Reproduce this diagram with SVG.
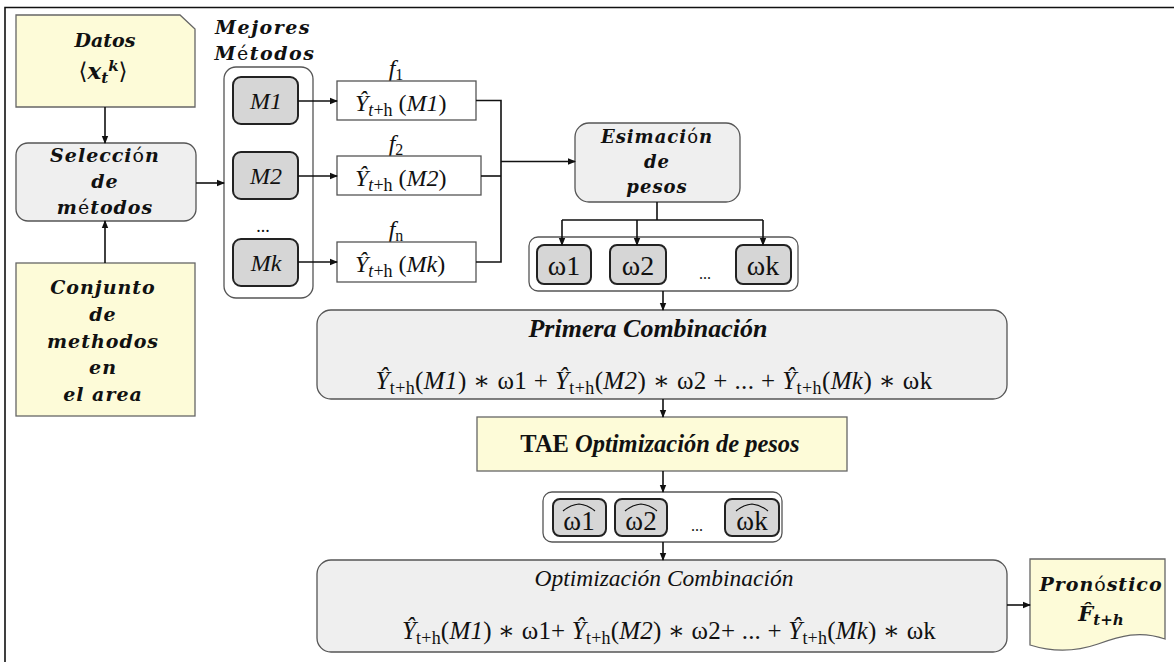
<svg xmlns="http://www.w3.org/2000/svg" width="1174" height="662" viewBox="0 0 1174 662">
<style>
.lbl{font-family:"DejaVu Serif","Liberation Serif",serif;font-weight:bold;font-style:italic;fill:#111;text-anchor:middle;}
.up{font-weight:normal;font-style:normal;}
.math{font-family:"Liberation Serif","DejaVu Serif",serif;fill:#111;}
.it{font-style:italic;}
.yel{fill:#fdfbd8;stroke:#666;stroke-width:1.3;}
.gry{fill:#efefef;stroke:#555;stroke-width:1.3;}
.mbox{fill:#d6d6d6;stroke:#222;stroke-width:2;}
.grp{fill:#fff;stroke:#555;stroke-width:1.3;}
.ybox{fill:#fff;stroke:#555;stroke-width:1.3;}
.hat{fill:none;stroke:#111;stroke-width:1.1;}
.ln{fill:none;stroke:#111;stroke-width:1.6;}
.arr{fill:none;stroke:#111;stroke-width:1.6;marker-end:url(#ah);}
</style>
<defs>
<marker id="ah" markerWidth="8" markerHeight="8" refX="7" refY="4" orient="auto" markerUnits="userSpaceOnUse">
<path d="M0,0.8 L8,4 L0,7.2 Z" fill="#111"/>
</marker>
</defs>
<rect width="1174" height="662" fill="#fff"/>
<path d="M5,662 V7.5 H1174" fill="none" stroke="#111" stroke-width="1.6"/>

<g id="datos">
<path class="yel" d="M16,15 H180 L195,29 V107 H16 Z"/>
<text class="lbl" x="105" y="47" font-size="19">Datos</text>
<text class="lbl" x="103" y="79" font-size="23"><tspan class="up">⟨</tspan>x<tspan font-size="15" dy="4">t</tspan><tspan font-size="15" dy="-12">k</tspan><tspan class="up" dy="8">⟩</tspan></text>
</g>

<g id="seleccion">
<rect class="gry" x="16" y="143" width="180" height="78" rx="12"/>
<text class="lbl" x="105" y="162" font-size="19" letter-spacing="1">Selecci<tspan class="up">ó</tspan>n</text>
<text class="lbl" x="105" y="188" font-size="19" letter-spacing="1">de</text>
<text class="lbl" x="105" y="214" font-size="19" letter-spacing="1">m<tspan class="up">é</tspan>todos</text>
</g>

<g id="conjunto">
<rect class="yel" x="16" y="263" width="179" height="153"/>
<text class="lbl" x="103" y="294" font-size="19" letter-spacing="1">Conjunto</text>
<text class="lbl" x="103" y="321" font-size="19" letter-spacing="1">de</text>
<text class="lbl" x="103" y="348" font-size="19" letter-spacing="1">methodos</text>
<text class="lbl" x="103" y="374" font-size="19" letter-spacing="1">en</text>
<text class="lbl" x="103" y="401" font-size="19" letter-spacing="1">el area</text>
</g>

<g id="mejores">
<text class="lbl" x="263" y="34" font-size="19" letter-spacing="1.5">Mejores</text>
<text class="lbl" x="265" y="60" font-size="19" letter-spacing="1.5">M<tspan class="up">é</tspan>todos</text>
<rect class="grp" x="224" y="67" width="89" height="231" rx="12"/>
</g>

<g id="m1">
<rect class="mbox" x="233" y="77" width="65" height="47" rx="8"/>
<text class="math it" x="266" y="109" font-size="24" text-anchor="middle">M1</text>
</g>
<g id="m2">
<rect class="mbox" x="233" y="152" width="65" height="47" rx="8"/>
<text class="math it" x="266" y="184" font-size="24" text-anchor="middle">M2</text>
</g>
<text class="math" x="263" y="232" font-size="18" text-anchor="middle">...</text>
<g id="mk">
<rect class="mbox" x="233" y="239" width="65" height="47" rx="8"/>
<text class="math it" x="266" y="271" font-size="24" text-anchor="middle">Mk</text>
</g>

<g id="y1">
<text class="math it" x="396" y="76" font-size="24" text-anchor="middle">f<tspan font-style="normal" font-size="16" dy="4">1</tspan></text>
<rect class="ybox" x="337" y="81" width="139" height="39"/>
<text class="math" x="355" y="111" font-size="24"><tspan class="it">Ŷ</tspan><tspan font-size="18" dy="5"><tspan class="it">t</tspan>+h</tspan><tspan dy="-5"> (</tspan><tspan class="it">M1</tspan>)</text>
</g>
<g id="y2">
<text class="math it" x="396" y="151" font-size="24" text-anchor="middle">f<tspan font-style="normal" font-size="16" dy="4">2</tspan></text>
<rect class="ybox" x="337" y="156" width="144" height="39"/>
<text class="math" x="355" y="186" font-size="24"><tspan class="it">Ŷ</tspan><tspan font-size="18" dy="5"><tspan class="it">t</tspan>+h</tspan><tspan dy="-5"> (</tspan><tspan class="it">M2</tspan>)</text>
</g>
<g id="yk">
<text class="math it" x="396" y="237" font-size="24" text-anchor="middle">f<tspan font-style="normal" font-size="16" dy="4">n</tspan></text>
<rect class="ybox" x="337" y="242" width="139" height="40"/>
<text class="math" x="355" y="272" font-size="24"><tspan class="it">Ŷ</tspan><tspan font-size="18" dy="5"><tspan class="it">t</tspan>+h</tspan><tspan dy="-5"> (</tspan><tspan class="it">Mk</tspan>)</text>
</g>

<g id="esimacion">
<rect class="gry" x="575" y="123" width="165" height="79" rx="14"/>
<text class="lbl" x="657" y="143" font-size="18" letter-spacing="1">Esimaci<tspan class="up">ó</tspan>n</text>
<text class="lbl" x="657" y="168" font-size="18" letter-spacing="1">de</text>
<text class="lbl" x="657" y="193" font-size="18" letter-spacing="1">pesos</text>
</g>

<g id="omegas">
<rect class="grp" x="529" y="237" width="269" height="54" rx="9"/>
<rect class="mbox" x="537" y="245" width="54" height="39" rx="7"/>
<text class="math" x="564" y="275" font-size="28" text-anchor="middle">ω1</text>
<rect class="mbox" x="610" y="245" width="56" height="39" rx="7"/>
<text class="math" x="638" y="275" font-size="28" text-anchor="middle">ω2</text>
<text class="math" x="705" y="279" font-size="16" text-anchor="middle">...</text>
<rect class="mbox" x="736" y="245" width="55" height="39" rx="7"/>
<text class="math" x="763" y="275" font-size="28" text-anchor="middle">ωk</text>
</g>

<g id="primera">
<rect class="gry" x="317" y="310" width="690" height="89" rx="14"/>
<text class="math" x="648" y="337" font-size="26" font-weight="bold" font-style="italic" text-anchor="middle">Primera Combinación</text>
<text class="math" x="654" y="389" font-size="25" letter-spacing="0.4" text-anchor="middle"><tspan class="it">Ŷ</tspan><tspan font-size="18" dy="5">t+h</tspan><tspan dy="-5">(</tspan><tspan class="it">M1</tspan>) ∗ ω1 +  <tspan class="it">Ŷ</tspan><tspan font-size="18" dy="5">t+h</tspan><tspan dy="-5">(</tspan><tspan class="it">M2</tspan>) ∗ ω2 +  ... +  <tspan class="it">Ŷ</tspan><tspan font-size="18" dy="5">t+h</tspan><tspan dy="-5">(</tspan><tspan class="it">Mk</tspan>) ∗ ωk</text>
</g>

<g id="tae">
<rect class="yel" x="477" y="417" width="370" height="54"/>
<text class="math" x="660" y="452" font-size="24.5" font-weight="bold" text-anchor="middle">TAE <tspan class="it">Optimización de pesos</tspan></text>
</g>

<g id="omegahat">
<rect class="grp" x="543" y="492" width="239" height="50" rx="9"/>
<rect class="mbox" x="553" y="499" width="53" height="37" rx="7"/>
<text class="math" x="579" y="530" font-size="27" text-anchor="middle">ω1</text>
<path class="hat" d="M563,511 Q570,505 579,504 Q588,505 595,511"/>
<rect class="mbox" x="615" y="499" width="52" height="37" rx="7"/>
<text class="math" x="641" y="530" font-size="27" text-anchor="middle">ω2</text>
<path class="hat" d="M625,511 Q632,505 641,504 Q650,505 657,511"/>
<text class="math" x="697" y="531" font-size="16" text-anchor="middle">...</text>
<rect class="mbox" x="725" y="499" width="54" height="37" rx="7"/>
<text class="math" x="752" y="530" font-size="27" text-anchor="middle">ωk</text>
<path class="hat" d="M736,511 Q743,505 752,504 Q761,505 768,511"/>
</g>

<g id="optimizacion">
<rect class="gry" x="317" y="560" width="690" height="92" rx="14"/>
<text class="math it" x="664" y="586" font-size="23.5" text-anchor="middle">Optimización Combinación</text>
<text class="math" x="669" y="639" font-size="25" letter-spacing="0.2" text-anchor="middle"><tspan class="it">Ŷ</tspan><tspan font-size="18" dy="5">t+h</tspan><tspan dy="-5">(</tspan><tspan class="it">M1</tspan>) ∗ ω1+  <tspan class="it">Ŷ</tspan><tspan font-size="18" dy="5">t+h</tspan><tspan dy="-5">(</tspan><tspan class="it">M2</tspan>) ∗ ω2+  ... +  <tspan class="it">Ŷ</tspan><tspan font-size="18" dy="5">t+h</tspan><tspan dy="-5">(</tspan><tspan class="it">Mk</tspan>) ∗ ωk</text>
</g>

<g id="pronostico">
<path class="yel" d="M1030,559 H1165 V639 C1140,630 1120,636 1098,644 C1075,652 1052,652 1030,645 Z"/>
<text class="lbl" x="1101" y="591" font-size="19" letter-spacing="1">Pron<tspan class="up">ó</tspan>stico</text>
<text class="lbl" x="1101" y="621" font-size="21">F̂<tspan font-size="15" dy="4">t+h</tspan></text>
</g>

<g id="connectors">
<path class="arr" d="M105,107 V143"/>
<path class="arr" d="M105,263 V221"/>
<path class="arr" d="M196,183 H224"/>
<path class="arr" d="M298,101 H337"/>
<path class="arr" d="M298,176 H337"/>
<path class="arr" d="M298,262 H337"/>
<path class="ln" d="M476,100.5 H501 V262 H476"/>
<path class="ln" d="M481,176 H501"/>
<path class="arr" d="M501,161.5 H575"/>
<path class="ln" d="M657,202 V220 M562,220 H763"/>
<path class="arr" d="M562,220 V245"/>
<path class="arr" d="M637,220 V245"/>
<path class="arr" d="M763,220 V245"/>
<path class="arr" d="M663,291 V310"/>
<path class="arr" d="M663,399 V417"/>
<path class="arr" d="M663,471 V492"/>
<path class="arr" d="M663,542 V560"/>
<path class="arr" d="M1007,605 H1030"/>
</g>
</svg>
